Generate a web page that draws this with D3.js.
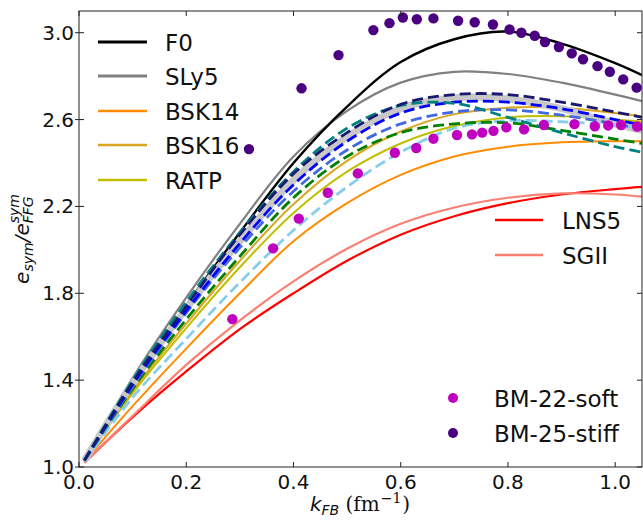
<!DOCTYPE html>
<html>
<head>
<meta charset="utf-8">
<script src="https://cdn.jsdelivr.net/npm/d3@7"></script>
<style>
  body { margin: 0; background: #fff; }
  svg { font-family: "DejaVu Sans", sans-serif; }
</style>
</head>
<body>
<div id="chart"></div>
<script>
// k grid shared by all model curves (fm^-1)
var kGrid = [0.01, 0.1, 0.2, 0.3, 0.4, 0.5, 0.6, 0.7, 0.8, 0.9, 1.0, 1.05];

// solid (labelled) models
var f0    = [1.03, 1.39, 1.745, 2.08, 2.40, 2.66, 2.865, 2.97, 3.005, 2.95, 2.86, 2.805];
var sly5  = [1.03, 1.41, 1.78, 2.12, 2.43, 2.64, 2.77, 2.82, 2.81, 2.77, 2.715, 2.685];
var bsk14 = [1.025, 1.28, 1.545, 1.80, 2.04, 2.215, 2.345, 2.43, 2.475, 2.495, 2.50, 2.50];
var bsk16 = [1.03, 1.35, 1.66, 1.95, 2.21, 2.41, 2.545, 2.625, 2.655, 2.655, 2.63, 2.615];
var ratp  = [1.03, 1.34, 1.64, 1.92, 2.17, 2.36, 2.49, 2.57, 2.61, 2.615, 2.60, 2.59];
var lns5  = [1.02, 1.23, 1.44, 1.635, 1.80, 1.95, 2.07, 2.155, 2.215, 2.255, 2.28, 2.29];
var sgii  = [1.02, 1.235, 1.47, 1.675, 1.855, 2.005, 2.12, 2.195, 2.24, 2.26, 2.255, 2.245];

// unlabelled dashed models
var silverBand = [1.03, 1.385, 1.73, 2.04, 2.32, 2.52, 2.65, 2.70, 2.695, 2.65, 2.58, 2.55];
var navyDash   = [1.03, 1.39, 1.74, 2.07, 2.35, 2.54, 2.67, 2.715, 2.715, 2.68, 2.635, 2.61];
var tealDash   = [1.03, 1.40, 1.76, 2.08, 2.36, 2.56, 2.665, 2.675, 2.61, 2.54, 2.475, 2.45];
var blueDash   = [1.03, 1.38, 1.72, 2.03, 2.30, 2.50, 2.63, 2.68, 2.68, 2.65, 2.60, 2.575];
var royalDash  = [1.03, 1.37, 1.71, 2.01, 2.27, 2.46, 2.58, 2.635, 2.645, 2.62, 2.58, 2.555];
var greenDash  = [1.03, 1.36, 1.68, 1.97, 2.24, 2.43, 2.54, 2.58, 2.585, 2.55, 2.51, 2.49];
var skyDash    = [1.025, 1.32, 1.59, 1.85, 2.09, 2.29, 2.45, 2.56, 2.595, 2.59, 2.575, 2.56];

// BM points
var softK  = [0.286, 0.362, 0.410, 0.464, 0.520, 0.589, 0.629, 0.661, 0.705, 0.733, 0.752, 0.773, 0.797, 0.830, 0.867, 0.924, 0.962, 0.987, 1.011, 1.041];
var softE  = [1.681, 2.007, 2.144, 2.263, 2.352, 2.447, 2.469, 2.512, 2.529, 2.532, 2.540, 2.548, 2.564, 2.555, 2.575, 2.579, 2.569, 2.573, 2.575, 2.568];
var stiffK = [0.317, 0.415, 0.484, 0.549, 0.579, 0.604, 0.630, 0.661, 0.707, 0.738, 0.772, 0.803, 0.825, 0.850, 0.869, 0.895, 0.919, 0.940, 0.967, 0.990, 1.015, 1.040];
var stiffE = [2.464, 2.744, 2.897, 3.012, 3.044, 3.070, 3.062, 3.066, 3.055, 3.048, 3.038, 3.015, 3.000, 2.986, 2.957, 2.934, 2.905, 2.878, 2.846, 2.820, 2.785, 2.747];

var xTicks = [0.0, 0.2, 0.4, 0.6, 0.8, 1.0];
var yTicks = [1.0, 1.4, 1.8, 2.2, 2.6, 3.0];

var W = 643, H = 520;
var m = { top: 11, right: 1, bottom: 53, left: 79 };
var iW = W - m.left - m.right;
var iH = H - m.top - m.bottom;

var svg = d3.select("#chart").append("svg").attr("width", W).attr("height", H);
var g = svg.append("g").attr("transform", "translate(" + m.left + "," + m.top + ")");

var x = d3.scaleLinear().domain([0, 1.05]).range([0, iW]);
var y = d3.scaleLinear().domain([1.0, 3.1]).range([iH, 0]);

g.append("defs").append("clipPath").attr("id", "clip")
  .append("rect").attr("width", iW).attr("height", iH);
var plot = g.append("g").attr("clip-path", "url(#clip)");

var line = d3.line()
  .x(function (d) { return x(d[0]); })
  .y(function (d) { return y(d[1]); })
  .curve(d3.curveCatmullRom.alpha(0.5));

function pairs(vals) { return kGrid.map(function (k, i) { return [k, vals[i]]; }); }

var solids = [
  { v: lns5, c: "#ff0000", w: 2.2 },
  { v: sgii, c: "#fa8072", w: 2.2 },
  { v: bsk14, c: "#ff8c00", w: 2 },
  { v: sly5, c: "#808080", w: 2.2 },
  { v: f0, c: "#000000", w: 2.4 },
  { v: ratp, c: "#bfbf00", w: 2 },
  { v: bsk16, c: "#daa520", w: 2 }
];
solids.forEach(function (s) {
  plot.append("path").datum(pairs(s.v))
    .attr("fill", "none").attr("stroke", s.c).attr("stroke-width", s.w)
    .attr("d", line);
});

// wide silver band under the dashed set
plot.append("path").datum(pairs(silverBand))
  .attr("fill", "none").attr("stroke", "#c8c8c8").attr("stroke-width", 7)
  .attr("d", line);

var dashed = [
  { v: skyDash, c: "#87ceeb" },
  { v: greenDash, c: "#008000" },
  { v: royalDash, c: "#4169e1" },
  { v: blueDash, c: "#0000ff" },
  { v: tealDash, c: "#008080" },
  { v: navyDash, c: "#191970" }
];
dashed.forEach(function (s) {
  plot.append("path").datum(pairs(s.v))
    .attr("fill", "none").attr("stroke", s.c).attr("stroke-width", 2.8)
    .attr("stroke-dasharray", "11,5")
    .attr("d", line);
});

// scatter
plot.selectAll(".soft").data(softK).join("circle")
  .attr("cx", function (d) { return x(d); })
  .attr("cy", function (d, i) { return y(softE[i]); })
  .attr("r", 5.2).attr("fill", "#bf00bf");
plot.selectAll(".stiff").data(stiffK).join("circle")
  .attr("cx", function (d) { return x(d); })
  .attr("cy", function (d, i) { return y(stiffE[i]); })
  .attr("r", 5.2).attr("fill", "#4b0082");

// frame + ticks
g.append("rect").attr("width", iW).attr("height", iH)
  .attr("fill", "none").attr("stroke", "#222").attr("stroke-width", 1);

var tl = 5;
xTicks.forEach(function (t) {
  g.append("line").attr("x1", x(t)).attr("x2", x(t)).attr("y1", iH).attr("y2", iH - tl).attr("stroke", "#222");
  g.append("line").attr("x1", x(t)).attr("x2", x(t)).attr("y1", 0).attr("y2", tl).attr("stroke", "#222");
  g.append("text").attr("x", x(t)).attr("y", iH + 22).attr("text-anchor", "middle")
    .attr("font-size", 20).attr("fill", "#111").text(d3.format(".1f")(t));
});
yTicks.forEach(function (t) {
  g.append("line").attr("x1", -4).attr("x2", tl).attr("y1", y(t)).attr("y2", y(t)).attr("stroke", "#222");
  g.append("line").attr("x1", iW).attr("x2", iW - tl).attr("y1", y(t)).attr("y2", y(t)).attr("stroke", "#222");
  g.append("text").attr("x", -5).attr("y", y(t) + 7).attr("text-anchor", "end")
    .attr("font-size", 20).attr("fill", "#111").text(d3.format(".1f")(t));
});

// axis titles
var xl = svg.append("text").attr("x", 360).attr("y", 511).attr("text-anchor", "middle")
  .attr("font-size", 20).attr("fill", "#111");
xl.append("tspan").attr("font-style", "italic").text("k");
xl.append("tspan").attr("font-style", "italic").attr("font-size", 14).attr("dy", 4).text("FB");
xl.append("tspan").attr("dy", -4).attr("font-family", "DejaVu Serif").text(" (fm");
xl.append("tspan").attr("font-family", "DejaVu Serif").attr("font-size", 14).attr("dx", 1).attr("dy", -8).text("\u22121");
xl.append("tspan").attr("font-family", "DejaVu Serif").attr("dx", 1).attr("dy", 8).text(")");

var yl = svg.append("text").attr("transform", "translate(29," + (m.top + iH / 2) + ") rotate(-90)")
  .attr("text-anchor", "middle").attr("font-size", 20).attr("font-style", "italic").attr("fill", "#111");
yl.append("tspan").text("e");
yl.append("tspan").attr("font-size", 14).attr("dy", 4).text("sym");
yl.append("tspan").attr("dy", -4).text("/e");
yl.append("tspan").attr("font-size", 14).attr("dy", 4).text("FFG");
yl.append("tspan").attr("font-size", 14).attr("dx", -27).attr("dy", -14).text("sym");

// legends
function lineLegend(items, x0, x1, tx, ys) {
  items.forEach(function (it, i) {
    svg.append("line").attr("x1", x0).attr("x2", x1).attr("y1", ys[i]).attr("y2", ys[i])
      .attr("stroke", it.c).attr("stroke-width", it.w);
    svg.append("text").attr("x", tx).attr("y", ys[i] + 8.5).attr("font-size", 23)
      .attr("fill", "#111").text(it.name);
  });
}
lineLegend([
  { name: "F0", c: "#000000", w: 3 },
  { name: "SLy5", c: "#808080", w: 3 },
  { name: "BSK14", c: "#ff8c00", w: 2.5 },
  { name: "BSK16", c: "#daa520", w: 2.5 },
  { name: "RATP", c: "#bfbf00", w: 2.5 }
], 98, 147, 165, [42, 76, 111, 145, 180]);
lineLegend([
  { name: "LNS5", c: "#ff0000", w: 2.5 },
  { name: "SGII", c: "#fa8072", w: 2.5 }
], 495, 543, 562, [220, 255]);

[{ name: "BM-22-soft", c: "#bf00bf", y: 398 }, { name: "BM-25-stiff", c: "#4b0082", y: 433 }]
  .forEach(function (it) {
    svg.append("circle").attr("cx", 453).attr("cy", it.y).attr("r", 5).attr("fill", it.c);
    svg.append("text").attr("x", 494).attr("y", it.y + 8.5).attr("font-size", 23)
      .attr("fill", "#111").text(it.name);
  });
</script>
</body>
</html>
